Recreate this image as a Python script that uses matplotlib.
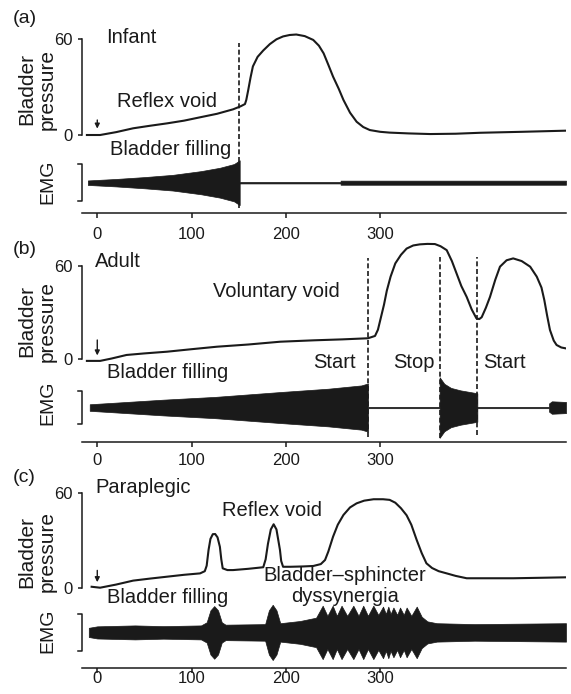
import numpy as np
import matplotlib
matplotlib.use('Agg')
import matplotlib.pyplot as plt

plt.rcParams['font.family'] = ['Liberation Sans', 'DejaVu Sans']

INK = '#1a1a1a'
W, H = 571, 694

# --- bladder pressure traces (time, pressure) ---
press_a_t = [-11, 3, 20, 38, 56, 74, 92, 109, 127, 144, 152, 156.6, 158, 160, 162.5, 165,
             170, 176, 183, 190, 197, 204, 211, 220, 229, 235, 240, 245, 250, 256, 261,
             268, 275, 282, 289, 300, 310, 330, 353, 380, 406, 450, 496]
press_a = [0, 0, 1.8, 4.2, 5.8, 7.3, 9.0, 11.1, 13.3, 16.1, 18.0, 19.4, 22, 28, 36, 43,
           49, 53, 57, 60, 61.8, 62.7, 63.0, 62, 59.6, 56, 51.2, 44, 36.6, 29, 22,
           14, 8.3, 5, 3.1, 2, 1.5, 1, 0.6, 0.8, 1.4, 2, 2.7]

press_b_t = [-11, 3, 15, 31, 50, 74, 100, 127, 160, 194, 230, 260, 287, 294.5, 297.6, 300,
             304, 307, 311, 316, 322, 328, 335, 342, 350, 358, 364, 370.5, 376, 381, 386,
             391.7, 397, 402, 405, 407.6, 412, 416.4, 422, 427, 434, 441, 450, 459, 466,
             471, 474, 477, 480, 484, 487, 492, 497]
press_b = [-1, -1, 0.5, 2.8, 3.8, 4.9, 6.5, 8.1, 9.5, 11.3, 12.2, 12.8, 13.5, 15, 19, 25,
           35, 44, 53, 61.5, 67, 71, 73, 73.7, 74, 73.9, 72.5, 70, 63, 55, 47,
           40, 32, 26.3, 25.8, 27, 33, 40, 51, 59.4, 63.5, 64.7, 63, 59.4, 53,
           46, 38, 28, 18.8, 12, 9.2, 7.6, 7]

press_c_t = [-6, 3, 20, 38, 56, 74, 92, 109, 114, 116, 118, 120, 122.5, 125, 127.5, 130,
             131.5, 133, 138, 144, 160, 176, 178.5, 181, 184, 187, 190, 192, 193.7, 195,
             197, 205, 218, 229, 237, 241.5, 245, 250, 255, 261, 268, 275, 283, 293, 303,
             310, 316, 322, 328, 333, 338.7, 344, 349, 355, 362, 370.5, 380, 391.7, 420,
             441, 470, 497]
press_c = [0.6, 0, 2, 4.5, 5.8, 7, 8.2, 9.1, 10.5, 14, 24, 31, 34, 34.1, 32, 26,
           18, 12.3, 11.2, 11.2, 12, 13, 18, 28, 37, 40.3, 37, 30, 24, 17,
           13.3, 13.3, 13.5, 13.8, 15, 17.6, 23, 32.4, 40, 46.2, 51, 53.6, 55.3, 56.2, 56.2,
           55.8, 54, 50.5, 46, 40, 30.3, 22, 15.5, 12.5, 10.5, 9.1, 7.5, 6, 6,
           6, 6.3, 6.6]

# --- EMG envelopes (time, half-amplitude in units of the scale bracket) ---
emg_a_t = [-10, 20, 50, 80, 110, 130, 145, 151, 151, 258, 258, 497]
emg_a = [0.12, 0.2, 0.3, 0.42, 0.62, 0.8, 1.0, 1.2, 0.04, 0.04, 0.11, 0.11]

emg_b_t = [-8, 20, 70, 125, 195, 245, 280, 287, 287, 363, 363, 368, 375, 385, 403, 403,
           479, 479, 482, 497]
emg_b = [0.2, 0.3, 0.48, 0.65, 0.95, 1.15, 1.35, 1.47, 0.04, 0.04, 1.85, 1.45, 1.2, 1.05,
         0.87, 0.04, 0.04, 0.25, 0.38, 0.34]

emg_c_t = [-9, 0, 40, 70, 110, 116, 120, 124, 128, 132, 136, 178, 182, 186, 190, 194,
           215, 232, 239, 244, 249.6, 254, 259, 265, 271.5, 277, 282, 287, 292.7, 298,
           303, 306, 308.6, 311, 314, 318, 321, 325, 328, 333, 338.7, 344, 350, 360,
           400, 497]
emg_c = [0.25, 0.33, 0.38, 0.34, 0.38, 0.55, 1.2, 1.43, 1.2, 0.55, 0.42, 0.45, 1.2, 1.5,
         1.2, 0.5, 0.62, 0.8, 1.45, 0.9, 1.45, 0.9, 1.45, 0.9, 1.45, 0.9, 1.45, 0.9,
         1.45, 0.95, 1.4, 1.0, 1.4, 1.0, 1.35, 0.95, 1.35, 0.95, 1.35, 0.9, 1.4, 0.85,
         0.6, 0.5, 0.45, 0.5]

x_ticks = [0, 100, 200, 300]
p_ticks = [0, 60]
X_LIM = (-16.2, 497)


def fx(px):
    return px / W


def fy(py):
    return 1 - py / H


def panel(top_px, bot_px, ylim, pt, p, et, e, emg_c0, emg_h, dashes, dash_span,
          arrow, lab_pad):
    ax = fig.add_axes([fx(82), fy(bot_px), (566 - 82) / W, (bot_px - top_px) / H])
    ax.set_xlim(*X_LIM)
    ax.set_ylim(*ylim)
    ax.patch.set_visible(False)
    for s in ['top', 'right']:
        ax.spines[s].set_visible(False)
    for s in ['left', 'bottom']:
        ax.spines[s].set_linewidth(1.1)
        ax.spines[s].set_color(INK)
    ax.spines['left'].set_bounds(0, 60)
    ax.set_xticks(x_ticks)
    ax.set_yticks(p_ticks)
    ax.tick_params(axis='x', length=3.5, width=1.1, pad=lab_pad, labelsize=12, colors=INK)
    ax.tick_params(axis='y', length=3, width=1.1, pad=4, labelsize=12, colors=INK)

    ax.plot(pt, p, color=INK, lw=1.5, solid_joinstyle='round')
    et = np.array(et)
    e = np.array(e)
    ax.fill_between(et, emg_c0 - e * emg_h, emg_c0 + e * emg_h,
                    color=INK, lw=0.5, edgecolor=INK)

    # EMG scale bracket
    x0 = X_LIM[0]
    tick = 4.2
    ax.plot([x0 - tick, x0, x0, x0 - tick],
            [emg_c0 + emg_h, emg_c0 + emg_h, emg_c0 - emg_h, emg_c0 - emg_h],
            color=INK, lw=1.1, clip_on=False)

    for d, (lo, hi) in zip(dashes, dash_span):
        ax.plot([d, d], [lo, hi], color=INK, lw=1.2, ls=(0, (3, 1.6)))

    ax.annotate('', xy=(0, arrow[1]), xytext=(0, arrow[0]),
                arrowprops=dict(arrowstyle='-|>', color=INK, lw=1.0,
                                mutation_scale=7, shrinkA=0, shrinkB=0))
    return ax


fig = plt.figure(figsize=(W / 100, H / 100), dpi=100)

# (a) infant
panel(20, 213, (-48.9, 72.1), press_a_t, press_a, emg_a_t, emg_a, -29.9, 11.7,
      [150.6], [(-45.8, 57.5)], (9.4, 4.0), 6.5)
# (b) adult
panel(240, 441.7, (-52.8, 76.5), press_b_t, press_b, emg_b_t, emg_b, -30.9, 10.5,
      [287.4, 363, 403], [(-49.6, 65), (-50.4, 65.8), (-48.5, 65.8)], (12.4, 2.5), 4.5)
# (c) paraplegic
panel(475, 668.3, (-51.2, 71.6), press_c_t, press_c, emg_c_t, emg_c, -28.4, 11.7,
      [], [], (11.0, 3.5), -1.2)

FS = 14.5


def txt(px, py, s, **kw):
    kw.setdefault('fontsize', FS)
    kw.setdefault('color', INK)
    fig.text(fx(px), fy(py), s, **kw)


# panel letters
txt(25, 18.5, '(a)', ha='center', va='center', fontsize=14)
txt(25, 250, '(b)', ha='center', va='center', fontsize=14)
txt(24, 478, '(c)', ha='center', va='center', fontsize=14)

# axis labels
for cy, ey in [(89, 182), (321, 403), (552, 631)]:
    txt(37, cy, 'Bladder\npressure', rotation=90, ha='center', va='center',
        multialignment='center', fontsize=15, linespacing=1.1)
    txt(47.5, ey, 'EMG', rotation=90, ha='center', va='center', fontsize=14)

# annotations
txt(106, 42.7, 'Infant', va='baseline')
txt(117, 106.7, 'Reflex void', va='baseline')
txt(110, 155, 'Bladder filling', va='baseline')

txt(95, 266.7, 'Adult', va='baseline')
txt(213, 297.3, 'Voluntary void', va='baseline')
txt(107, 378.3, 'Bladder filling', va='baseline')
txt(313, 367.7, 'Start', va='baseline')
txt(393, 367.7, 'Stop', va='baseline')
txt(483, 367.7, 'Start', va='baseline')

txt(95, 492.7, 'Paraplegic', va='baseline')
txt(222, 516, 'Reflex void', va='baseline')
txt(345, 581, 'Bladder\u2013sphincter', ha='center', va='baseline')
txt(345, 602, 'dyssynergia', ha='center', va='baseline')
txt(107, 603.3, 'Bladder filling', va='baseline')

fig.savefig('out.png', dpi=100)
